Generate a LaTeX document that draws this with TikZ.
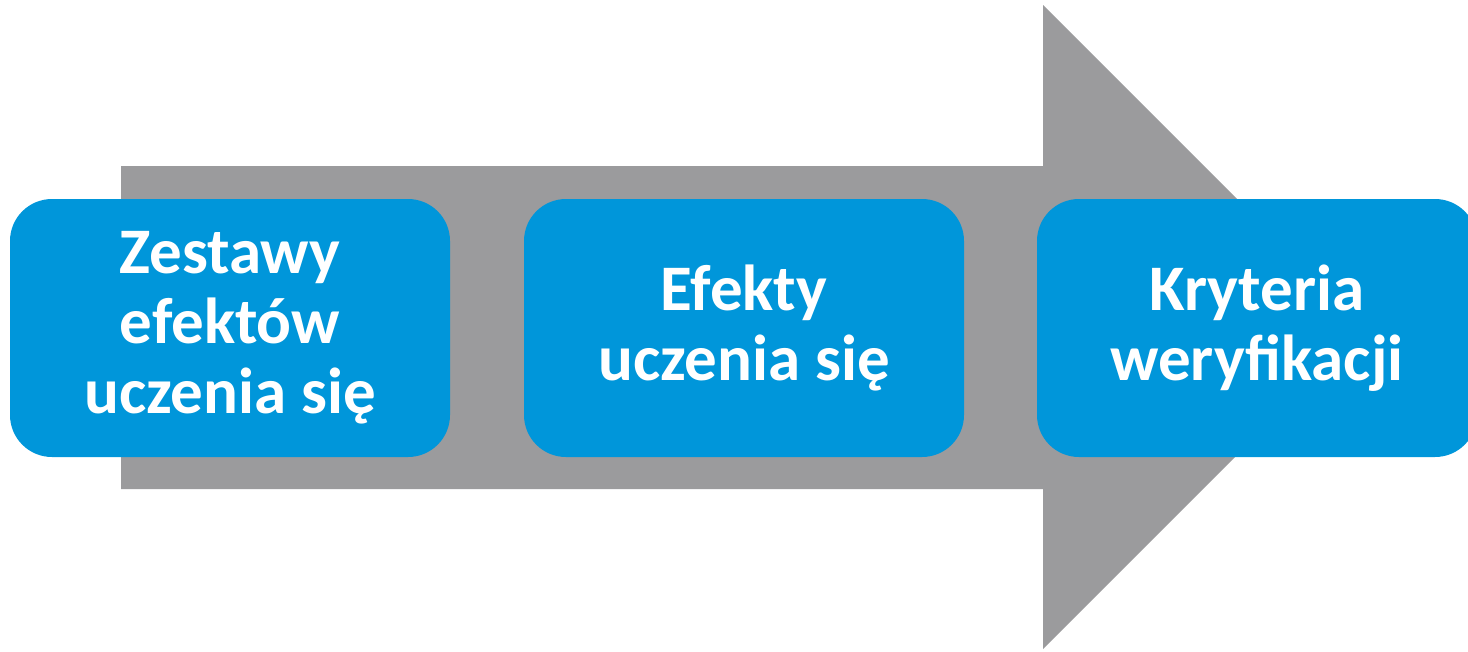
\documentclass[tikz,border=0pt]{standalone}
\usepackage{fontspec}
\setmainfont{Carlito}
\definecolor{arrowgray}{RGB}{155,155,157}
\definecolor{boxblue}{RGB}{0,150,218}
\begin{document}
\begin{tikzpicture}[x=1pt,y=-1pt,
  stage/.style={fill=boxblue, rounded corners=42pt, minimum width=440pt, minimum height=258pt,
    inner sep=0pt, text=white, align=center,
    font=\fontsize{65}{70}\selectfont\bfseries}]
\useasboundingbox (0,0) rectangle (1468,651);
\clip (0,0) rectangle (1468,651);
\fill[arrowgray] (121,166) -- (1043,166) -- (1043,5) -- (1365,327) -- (1043,649) -- (1043,489) -- (121,489) -- cycle;
\node[stage] (a) at (230,328) {Zestawy\\efektów\\uczenia się};
\node[stage] (b) at (744,328) {Efekty\\uczenia się};
\node[stage] (c) at (1257,328) {Kryteria\\weryfikacji};
\end{tikzpicture}
\end{document}
